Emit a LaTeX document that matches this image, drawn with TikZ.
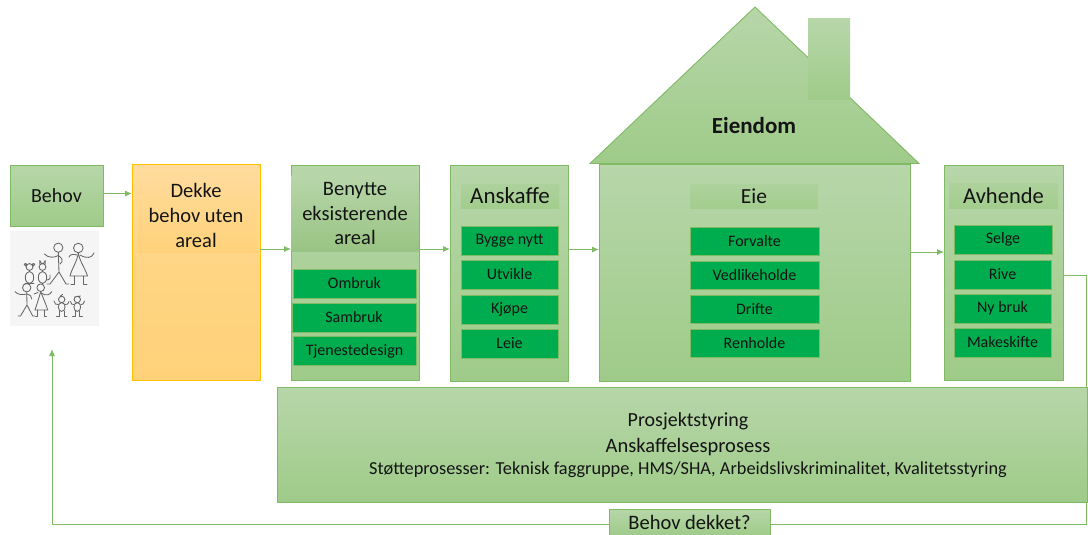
\documentclass[tikz,border=0pt]{standalone}
\usepackage{fontspec}
\setmainfont{Carlito}
\usetikzlibrary{arrows.meta,calc}
\definecolor{gTop}{HTML}{B7D6A9}
\definecolor{gBot}{HTML}{9FCB89}
\definecolor{gEdge}{HTML}{80BA64}
\definecolor{gItem}{HTML}{00AD4E}
\definecolor{oTop}{HTML}{FFDC9E}
\definecolor{oMid}{HTML}{FFD583}
\definecolor{oBot}{HTML}{FFD27A}
\definecolor{oEdge}{HTML}{FFC000}
\definecolor{ink}{HTML}{141414}
\newcommand{\fs}[1]{\fontsize{#1}{#1}\selectfont}
\newcommand{\nudge}[1]{\raisebox{-1.2pt}{#1}}
\tikzset{
  x=1pt,y=-1pt,
  box/.style={anchor=north west,inner sep=0pt,outer sep=0pt,align=center,text=ink},
  panel/.style={box,draw=gEdge,line width=1pt,top color=gTop,bottom color=gBot},
  orangepanel/.style={box,draw=oEdge,line width=1pt,top color=oTop,bottom color=oBot,middle color=oMid},
  titleband/.style={box,top color=gTop!60!gBot,bottom color=gBot!85!gTop},
  item/.style={box,draw=gEdge,line width=.9pt,fill=gItem,font=\fs{16}},
  head/.style={font=\fs{20.5},text=ink,inner sep=0pt,align=center},
  link/.style={draw=gEdge,line width=1pt},
  arrowlink/.style={link,-{Latex[length=7pt,width=6pt]}},
  stick/.style={draw=black!60,line width=.85pt,line cap=round,line join=round},
}
\begin{document}
\begin{tikzpicture}
\useasboundingbox (0,0) rectangle (1088,535);

% Behov + family
\node[panel,minimum width=93pt,minimum height=61pt,font=\fs{20}] (behov) at (10,165) {Behov};
\node[box,fill=black!4,minimum width=89pt,minimum height=95pt] (family) at (10,231) {};
% man
\draw[stick] (58.3,247.7) circle (4.6);
\draw[stick] (58.3,252.3) -- (59,272) (59,272) -- (50,284) (50,284) -- (47,284) (59,272) -- (66,284) -- (69,284);
\draw[stick] (44.5,254) .. controls (48,258) and (54,258) .. (58.3,255.5) .. controls (62,258) and (64,261) .. (60,264);
% woman
\draw[stick] (78.3,248) circle (4.8);
\draw[stick] (78.3,253) .. controls (77,262) and (72,268) .. (70,276) -- (87.5,276) .. controls (85,268) and (80,262) .. (78.3,253);
\draw[stick] (74,276) -- (74,284) -- (71,284) (83,276) -- (83,284) -- (87,284);
\draw[stick] (69,257) .. controls (70,254) and (74,254) .. (77,255) (94,253) .. controls (92,258) and (87,259) .. (80,255);
% teddy
\draw[stick] (29.5,267) circle (3.4) (25.5,264.5) circle (1.2) (33.5,264.5) circle (1.2);
\draw[stick] (29.5,277.5) ellipse (4.2 and 6);
\draw[stick] (25,283) -- (34,283);
% cat
\draw[stick] (42.5,267) circle (3.4) (39.8,264) -- (39.8,260.5) -- (41.5,263.5) (45.2,264) -- (45.2,260.5) -- (43.5,263.5);
\draw[stick] (42.5,277.5) ellipse (4.2 and 6);
\draw[stick] (47,280) .. controls (50,280) and (51,277) .. (50,275);
% boy
\draw[stick] (26.7,287.7) circle (4.2);
\draw[stick] (26.7,292) -- (27,305) -- (20.5,316) -- (18,316) (27,305) -- (32.7,316) -- (35,316);
\draw[stick] (15,291.7) .. controls (18,295) and (23,295) .. (26.7,294) .. controls (30,295) and (32,296) .. (31.7,299);
% girl
\draw[stick] (40.7,287.7) circle (3.8);
\draw[stick] (40.7,291.5) .. controls (39,298) and (37,304) .. (35,310) -- (47.7,310) .. controls (46,304) and (43,298) .. (40.7,291.5);
\draw[stick] (37.5,310) -- (37.5,316) -- (35.5,316) (44,310) -- (44,316) -- (46.5,316);
\draw[stick] (51.7,291.7) .. controls (50,295) and (46,296) .. (42,293.5) (34,294) -- (38,292.5);
% toddler 1
\draw[stick] (61.7,299.5) circle (3.2) (60.5,296) -- (62.5,294.5);
\draw[stick] (61.7,307) ellipse (3.4 and 4.4);
\draw[stick] (59.5,311) -- (59.5,316) -- (56.5,316) (64,311) -- (64,316) -- (67,316);
\draw[stick] (54,301) .. controls (54.5,304) and (56,305) .. (58.5,304.5) (69,301.5) .. controls (68.5,304) and (67,305) .. (65,304.5);
% toddler 2
\draw[stick] (77.3,299.5) circle (3.2) (74.5,297) -- (80.5,296);
\draw[stick] (77.3,307) ellipse (3.4 and 4.4);
\draw[stick] (75.2,311) -- (75.2,316) -- (72.5,316) (79.5,311) -- (79.5,316) -- (82.5,316);
\draw[stick] (70.5,301.5) .. controls (71,304) and (72,305) .. (74,304.5) (84.5,301) .. controls (84,304) and (82.5,305) .. (80.7,304.5);

% Dekke
\node[orangepanel,minimum width=128pt,minimum height=216pt] (dekke) at (132,164) {};
\node[box,top color=oTop,bottom color=oBot,minimum width=120pt,minimum height=87pt] (dekkeband) at (137,165) {};
\node[head] (dekketext) at (196,215.5) {Dekke\\[4.2pt]behov uten\\[4.2pt]areal};

% Benytte
\node[panel,minimum width=128pt,minimum height=215pt] (benytte) at (291,165) {};
\node[box,top color=gTop,bottom color=gBot!88!black!30!gBot,minimum width=127pt,minimum height=76pt] (benytteband) at (291.5,175) {};
\node[head] (benyttetext) at (355,213.5) {Benytte\\[4.2pt]eksisterende\\[4.2pt]areal};
\node[item,minimum width=123pt,minimum height=29pt] (ombruk) at (293,269) {Ombruk};
\node[item,minimum width=124pt,minimum height=29pt] (sambruk) at (292,303) {Sambruk};
\node[item,minimum width=123pt,minimum height=29pt] (tjeneste) at (293,336.5) {Tjenestedesign};

% Anskaffe
\node[panel,minimum width=118pt,minimum height=216pt] (anskaffe) at (450,165) {};
\node[titleband,minimum width=98pt,minimum height=24pt,font=\fs{23}] (anskaffetitle) at (461,184) {Anskaffe};
\node[item,minimum width=97pt,minimum height=29pt] (bygge) at (461,226) {\nudge{Bygge nytt}};
\node[item,minimum width=97pt,minimum height=29pt] (utvikle) at (461,260) {\nudge{Utvikle}};
\node[item,minimum width=97pt,minimum height=29pt] (kjope) at (461,295) {\nudge{Kjøpe}};
\node[item,minimum width=97pt,minimum height=29pt] (leie) at (461,329) {\nudge{Leie}};

% House
\node[panel,minimum width=311pt,minimum height=217pt] (eie) at (599,164) {};
\draw[draw=gEdge,line width=.9pt,top color=gTop,bottom color=gBot] (755,7) -- (919,163.5) -- (590,163.5) -- cycle;
\fill[top color=gTop,bottom color=gBot] (808,19) rectangle (850,100);
\node[font=\bfseries\fs{23},text=ink,inner sep=0pt] (eiendom) at (754,125.5) {Eiendom};
\node[titleband,minimum width=128pt,minimum height=24pt,font=\fs{21.5}] (eietitle) at (690,184.5) {Eie};
\node[item,minimum width=129pt,minimum height=28pt] (forvalte) at (690,227) {Forvalte};
\node[item,minimum width=129pt,minimum height=28pt] (vedlike) at (690,261) {Vedlikeholde};
\node[item,minimum width=129pt,minimum height=28pt] (drifte) at (690,295) {Drifte};
\node[item,minimum width=129pt,minimum height=28pt] (renholde) at (690,329) {Renholde};

% Avhende
\node[panel,minimum width=119pt,minimum height=215pt] (avhende) at (944,165) {};
\node[titleband,minimum width=109pt,minimum height=25pt,font=\fs{22.5}] (avhendetitle) at (949,183) {Avhende};
\node[item,minimum width=98pt,minimum height=29pt] (selge) at (954,225) {\nudge{Selge}};
\node[item,minimum width=97pt,minimum height=29pt] (rive) at (954,260) {\nudge{Rive}};
\node[item,minimum width=97pt,minimum height=29pt] (nybruk) at (954,294) {\nudge{Ny bruk}};
\node[item,minimum width=97pt,minimum height=29pt] (makeskifte) at (954,328) {\nudge{Makeskifte}};

% Bottom
\node[panel,minimum width=810pt,minimum height=115pt] (bottom) at (277,387) {};
\node[inner sep=0pt,align=center,text=ink] (bottomtext) at (688,445.5) {\fs{20}Prosjektstyring\\[7pt]\fs{20.5}Anskaffelsesprosess\\[5.5pt]\fs{18.3}Støtteprosesser: Teknisk faggruppe, HMS/SHA, Arbeidslivskriminalitet, Kvalitetsstyring};
\node[panel,minimum width=161pt,minimum height=26pt,font=\fs{20.5}] (dekket) at (609,509) {\raisebox{-2pt}{Behov dekket?}};

% Connectors
\coordinate (fback) at (52,349);
\draw[arrowlink] ([yshift=2pt]behov.east) -- ([yshift=2pt]behov.east -| dekke.west);
\draw[arrowlink] ([yshift=23pt]dekke.east) -- ([yshift=23pt]dekke.east -| benytte.west);
\draw[arrowlink] ([yshift=23.5pt]benytte.east) -- ([yshift=23.5pt]benytte.east -| anskaffe.west);
\draw[arrowlink] ([yshift=23.5pt]anskaffe.east) -- ([yshift=23.5pt]anskaffe.east -| eie.west);
\draw[arrowlink] ([yshift=20.5pt]eie.east) -- ([yshift=20.5pt]eie.east -| avhende.west);
\draw[link] ([yshift=-3pt]avhende.east) -| ([xshift=-1pt]bottom.north east);
\draw[link] ([xshift=-.5pt]bottom.south east) |- ([yshift=-2pt]dekket.east);
\draw[arrowlink] ([yshift=-2pt]dekket.west) -| (fback);
\end{tikzpicture}
\end{document}
